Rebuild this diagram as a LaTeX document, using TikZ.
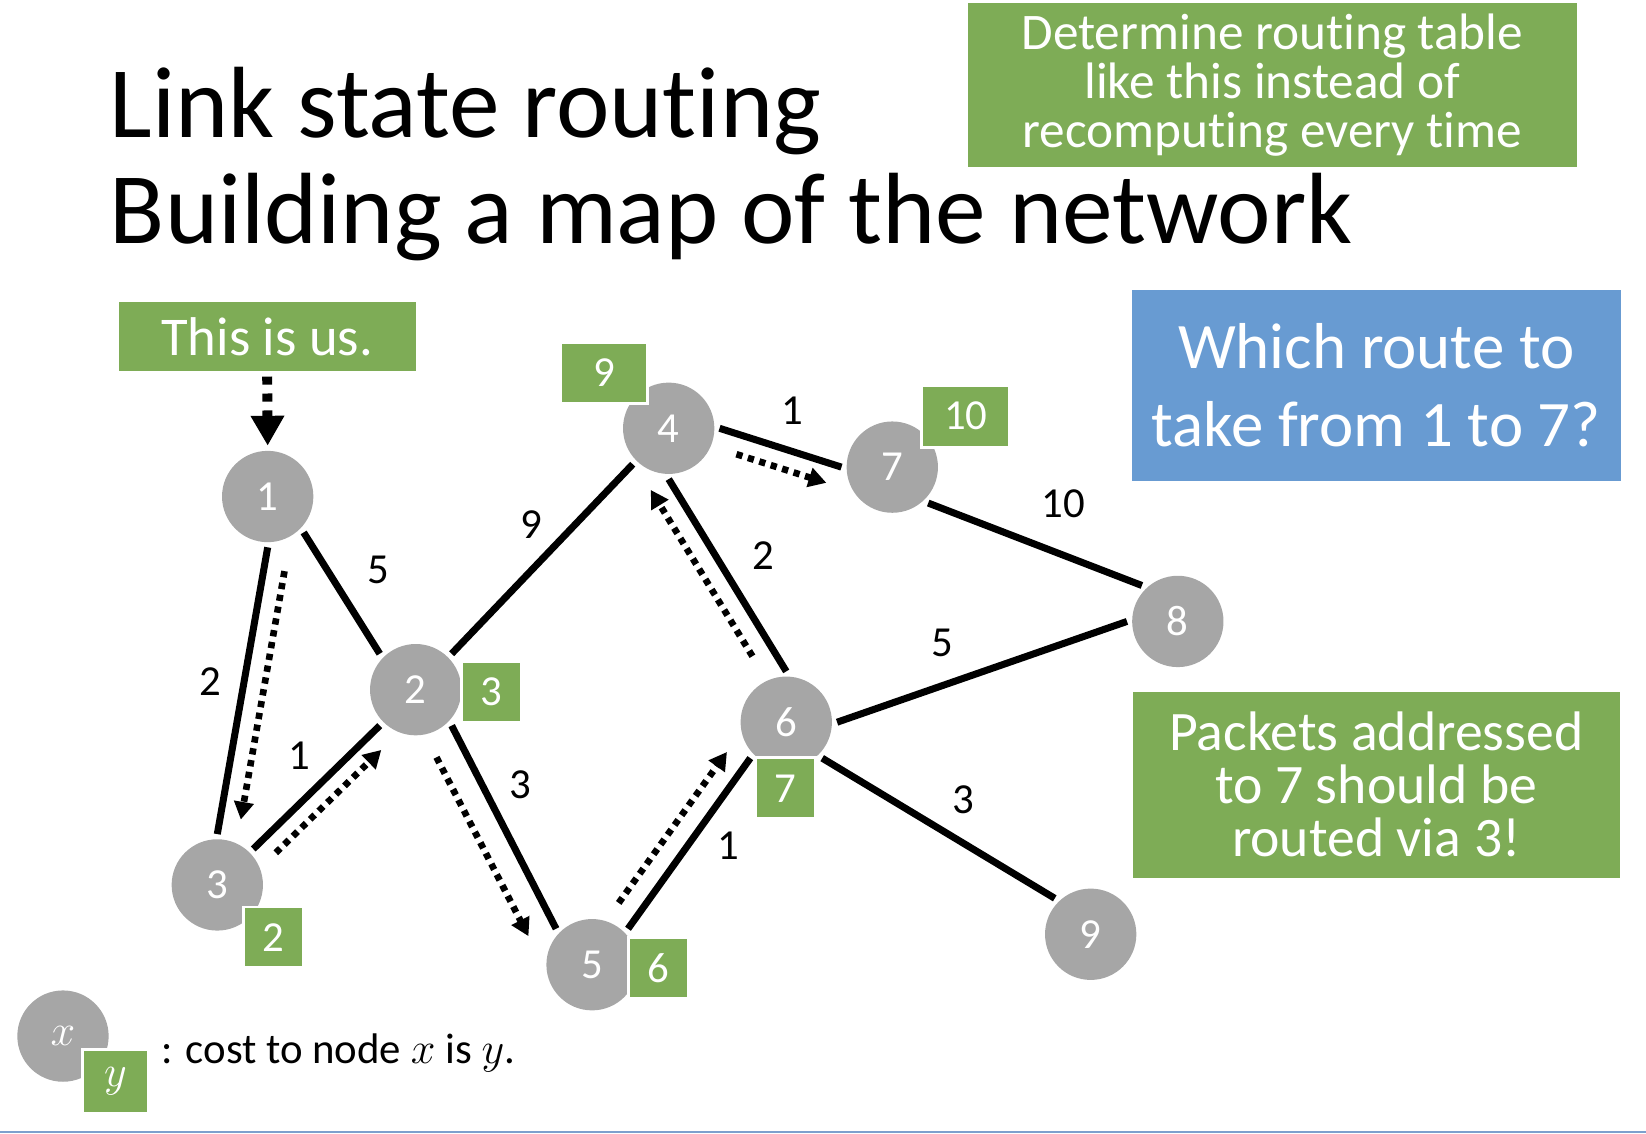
\documentclass[tikz,border=0pt]{standalone}
\usepackage{fontspec}
\setmainfont{Carlito}[Ligatures={NoCommon,NoContextual}]
\usetikzlibrary{arrows.meta}

\definecolor{nodegray}{RGB}{166,166,166}
\definecolor{boxgreen}{RGB}{126,172,86}
\definecolor{boxblue}{RGB}{104,155,210}
\definecolor{rulblue}{RGB}{125,160,205}

\tikzset{
  router/.style={circle, fill=nodegray, text=white, minimum size=0.87cm,
    inner sep=0pt, outer sep=1.4pt, font=\fontsize{11.6}{13}\selectfont},
  cost/.style={fill=boxgreen, draw=white, line width=0.8pt, text=white,
    minimum width=0.57cm, minimum height=0.58cm, inner sep=0pt,
    font=\fontsize{11.6}{13}\selectfont},
  weight/.style={inner sep=0pt, font=\fontsize{11.6}{13}\selectfont},
  link/.style={line width=1.9pt},
  route/.style={line width=1.8pt, dash pattern=on 1.7pt off 1.55pt,
    -{Triangle[length=4.8pt,width=5.2pt]}},
  usarrow/.style={line width=2.7pt, dash pattern=on 2.2pt off 2.4pt,
    -{Triangle[length=8.1pt,width=8.6pt]}},
  greenbox/.style={fill=boxgreen, text=white, inner sep=0pt, align=center},
}

\begin{document}
\begin{tikzpicture}

\useasboundingbox (0,0) rectangle (15.68,10.80);
%\draw [help lines] (0,0) grid (16,11);

% title
\node [anchor=base west, inner sep=0pt, font=\fontsize{27.45}{29}\selectfont]
  (title1) at (1.04,9.49) {Link state routing};
\node [anchor=base west, inner sep=0pt, font=\fontsize{27.45}{29}\selectfont]
  (title2) at (1.04,8.48) {Building a map of the network};

% boxes
\node [greenbox, minimum width=5.80cm, minimum height=1.56cm,
  font=\fontsize{13.9}{13.3}\selectfont] (table) at (12.12,9.99)
  {Determine routing table\\like this instead of\\recomputing every time};
\node [greenbox, minimum width=2.83cm, minimum height=0.65cm,
  font=\fontsize{14.8}{16}\selectfont] (us) at (2.545,7.595) {This is us.};
\node [greenbox, fill=boxblue, minimum width=4.66cm, minimum height=1.82cm,
  font=\fontsize{17.6}{21.3}\selectfont] (question) at (13.11,7.13)
  {Which route to\\take from 1 to 7?};
\node [greenbox, minimum width=4.64cm, minimum height=1.77cm,
  font=\fontsize{15.1}{14.4}\selectfont] (answer) at (13.11,3.325)
  {Packets addressed\\to 7 should be\\routed via 3!};

% routers
\node [router] (n1) at (2.55,6.07) {1};
\node [router] (n2) at (3.96,4.23) {2};
\node [router] (n3) at (2.07,2.37) {3};
\node [router] (n4) at (6.37,6.72) {4};
\node [router] (n5) at (5.64,1.61) {5};
\node [router] (n6) at (7.49,3.92) {6};
\node [router] (n7) at (8.50,6.35) {7};
\node [router] (n8) at (11.22,4.88) {8};
\node [router] (n9) at (10.39,1.90) {9};

% costs from 1
\node [cost, minimum width=0.83cm] (c4) at (5.755,7.25) {9};
\node [cost, minimum width=0.84cm, minimum height=0.59cm] (c7) at (9.20,6.835) {10};
\node [cost] (c2) at (4.685,4.21) {3};
\node [cost] (c6) at (7.485,3.29) {7};
\node [cost] (c3) at (2.605,1.87) {2};
\node [cost] (c5) at (6.275,1.575) {6};

% links
\draw [link] (n1.south east) -- (n2.north west);
\draw [link] (n1.south) -- (n3.north);
\draw [link] (n3.north east) -- (n2.south west);
\draw [link] (n2.north east) -- (n4.south west);
\draw [link] (n2.south east) -- (n5.north west);
\draw [link] (n4.east) -- (n7.west);
\draw [link] (n4.south) -- (n6.north);
\draw [link] (n7.south east) -- (n8.north west);
\draw [link] (n6.east) -- (n8.west);
\draw [link] (n5.north east) -- (n6.south west);
\draw [link] (n6.south east) -- (n9.north west);

% link weights
\node [weight] (w12) at (3.60,5.37) {5};
\node [weight] (w13) at (2.00,4.31) {2};
\node [weight] (w32) at (2.85,3.60) {1};
\node [weight] (w24) at (5.06,5.80) {9};
\node [weight] (w25) at (4.96,3.32) {3};
\node [weight] (w47) at (7.55,6.89) {1};
\node [weight] (w46) at (7.27,5.51) {2};
\node [weight] (w78) at (10.13,6.00) {10};
\node [weight] (w68) at (8.98,4.68) {5};
\node [weight] (w56) at (6.94,2.74) {1};
\node [weight] (w69) at (9.18,3.18) {3};

% route 1 -> 3 -> 2 -> 5 -> 6 -> 4 -> 7
\draw [usarrow, shorten <=0.05cm] (us.south) -- (n1.north);
\draw [route, shorten <=0.23cm, shorten >=0.14cm,
  transform canvas={xshift=0.20cm}] (n1.south) -- (n3.north);
\draw [route, shorten <=0.13cm, shorten >=0.15cm,
  transform canvas={xshift=0.122cm, yshift=-0.127cm}] (n3.north east) -- (n2.south west);
\draw [route, shorten <=0.20cm, shorten >=0.06cm,
  transform canvas={xshift=-0.236cm, yshift=-0.124cm}] (n2.south east) -- (n5.north west);
\draw [route, shorten <=0.15cm, shorten >=0.08cm,
  transform canvas={xshift=-0.176cm, yshift=0.124cm}] (n5.north east) -- (n6.south west);
\draw [route, shorten <=0.29cm,
  transform canvas={xshift=-0.171cm, yshift=-0.103cm}] (n6.north) -- (n4.south);
\draw [route, shorten <=0.23cm, shorten >=0.09cm,
  transform canvas={xshift=-0.058cm, yshift=-0.177cm}] (n4.east) -- (n7.west);

% legend
\node [router] (lx) at (0.60,0.93) {$x$};
\node [cost, minimum width=0.62cm, minimum height=0.61cm] (ly) at (1.10,0.495) {$y$};
\node [anchor=base west, inner sep=0pt, font=\fontsize{11.6}{13}\selectfont]
  (legend) at (1.53,0.67) {: cost to node $x$ is $y$.};

\draw [rulblue, line width=0.02cm] (0,0.015) -- (15.68,0.015);

\end{tikzpicture}
\end{document}
